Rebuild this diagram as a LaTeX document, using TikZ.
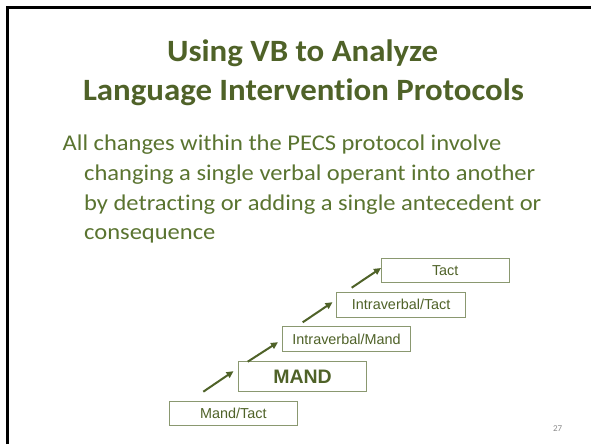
\documentclass[tikz,border=0pt]{standalone}
\usepackage{fontspec}
\setmainfont{Carlito}
\newfontfamily\titlefont[FakeStretch=1.06,Ligatures={NoCommon}]{Carlito}
\newfontfamily\bodyfont[FakeStretch=1.09,Ligatures={NoCommon}]{Carlito}
\newfontfamily\arialfont{Liberation Sans}
\usetikzlibrary{arrows.meta}
\definecolor{olive}{HTML}{4F6228}
\definecolor{bodyolive}{HTML}{5A7430}
\definecolor{boxline}{HTML}{8A9870}
\definecolor{pgnum}{HTML}{8C8C8C}
\tikzset{
  titletext/.style={font=\titlefont\fontsize{31}{36}\selectfont\bfseries, text=olive, anchor=base, inner sep=0pt},
  bodytext/.style={font=\bodyfont\fontsize{22.5}{26}\selectfont, text=bodyolive, anchor=base west, inner sep=0pt},
  stepbox/.style={draw=boxline, line width=0.9pt, fill=white, text=olive, inner sep=0pt,
     font=\arialfont\fontsize{14.4}{16}\selectfont},
  arr/.style={draw=olive, line width=2pt, -{Triangle[length=7pt,width=6.5pt]}},
}
\begin{document}
\begin{tikzpicture}[x=1pt,y=-1pt]
\useasboundingbox (0,0) rectangle (591,444);
\fill[white] (0,0) rectangle (591,444);
% slide frame
\draw[black, line width=3pt] (7.5,444) -- (7.5,7.5) -- (591,7.5);
% title
\node[titletext] (t1) at (302.5,61) {Using VB to Analyze};
\node[titletext] (t2) at (303.5,100.7) {Language Intervention Protocols};
% body
\node[bodytext] (b1) at (62.5,150) {All changes within the PECS protocol involve};
\node[bodytext] (b2) at (84,180.5) {changing a single verbal operant into another};
\node[bodytext] (b3) at (84,210) {by detracting or adding a single antecedent or};
\node[bodytext] (b4) at (84,239) {consequence};
% boxes
\node[stepbox, minimum width=128pt, minimum height=24pt] (tact) at (445.2,270.3) {Tact};
\node[stepbox, minimum width=129pt, minimum height=25pt] (ivt) at (401.2,304.8) {Intraverbal/Tact};
\node[stepbox, minimum width=128.4pt, minimum height=24.6pt] (ivm) at (346.5,339) {Intraverbal/Mand};
\node[stepbox, minimum width=128.4pt, minimum height=29.6pt, font=\arialfont\bfseries\fontsize{19.5}{22}\selectfont] (mand) at (302.5,376.5) {MAND};
\node[stepbox, minimum width=128pt, minimum height=24.3pt] (mt) at (233.3,413.2) {Mand/Tact};
% arrows
\coordinate (s1) at (203.3,391.7); \coordinate (e1) at (233.5,371.2);
\coordinate (s2) at (247.7,361.7); \coordinate (e2) at (278,342.2);
\coordinate (s3) at (302.7,322.3); \coordinate (e3) at (332.5,302.2);
\coordinate (s4) at (351.7,287.7); \coordinate (e4) at (381,268);
\draw[arr] (s1) -- (e1);
\draw[arr] (s2) -- (e2);
\draw[arr] (s3) -- (e3);
\draw[arr] (s4) -- (e4);
% page number
\node[text=pgnum, font=\fontsize{9}{10}\selectfont, inner sep=0pt] (pg) at (557.7,429) {27};
\end{tikzpicture}
\end{document}
